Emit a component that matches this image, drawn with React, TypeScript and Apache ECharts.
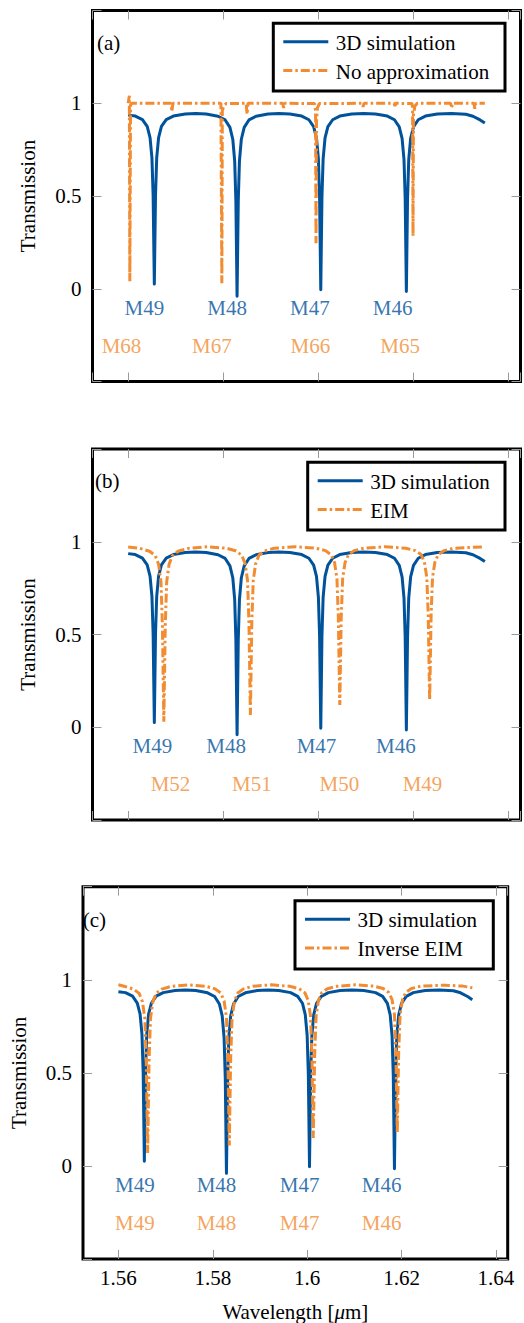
import React, { useEffect, useRef } from 'react';
import * as echarts from 'echarts';

const BLUE = '#00529B';
const ORANGE = '#F28C32';
const FONT = 'Liberation Serif, DejaVu Serif, serif';
const DASH = [9, 3, 2.5, 3];

// 3D simulation transmission (same spectrum in all three panels)
const sim3D: [number, number][] = [
  [1.5600, 0.936], [1.5615, 0.931], [1.5630, 0.912], [1.5640, 0.875], [1.5646, 0.815],
  [1.5650, 0.705], [1.56525, 0.502], [1.5655, 0.025], [1.56575, 0.502], [1.5660, 0.705],
  [1.5664, 0.815], [1.5670, 0.875], [1.5680, 0.912], [1.5695, 0.931], [1.5720, 0.942], [1.5742, 0.945],
  [1.5764, 0.942], [1.5789, 0.930], [1.5804, 0.910], [1.5814, 0.870], [1.5820, 0.806], [1.5824, 0.688],
  [1.58265, 0.471], [1.5829, -0.040], [1.58315, 0.471], [1.5834, 0.688], [1.5838, 0.806],
  [1.5844, 0.870], [1.5854, 0.910], [1.5869, 0.930], [1.5894, 0.942], [1.5917, 0.945],
  [1.5940, 0.942], [1.5965, 0.931], [1.5980, 0.911], [1.5990, 0.874], [1.5996, 0.813], [1.6000, 0.702],
  [1.60025, 0.495], [1.6005, -0.005], [1.60075, 0.495], [1.6010, 0.702], [1.6014, 0.813],
  [1.6020, 0.874], [1.6030, 0.911], [1.6045, 0.931], [1.6070, 0.942], [1.6095, 0.945],
  [1.6120, 0.942], [1.6145, 0.931], [1.6160, 0.911], [1.6170, 0.873], [1.6176, 0.811], [1.6180, 0.698],
  [1.61825, 0.488], [1.6185, -0.015], [1.61875, 0.488], [1.6190, 0.698], [1.6194, 0.811],
  [1.6200, 0.873], [1.6210, 0.911], [1.6225, 0.931], [1.6250, 0.942], [1.6280, 0.945], [1.6310, 0.941],
  [1.6325, 0.930], [1.6340, 0.910], [1.6350, 0.893],
];

// Full model without approximation
const noApprox: [number, number][] = [
  [1.5600, 1.000], [1.56025, 1.040], [1.56035, 0.040], [1.5605, 0.990], [1.5608, 1.000],
  [1.5690, 1.000], [1.5692, 0.955], [1.5694, 1.000],
  [1.5795, 1.000], [1.5797, 0.030], [1.5798, 0.960], [1.5801, 0.985], [1.5806, 0.998],
  [1.5848, 1.000], [1.5850, 0.940], [1.5852, 1.000],
  [1.5925, 1.000], [1.5927, 0.975], [1.5929, 1.000],
  [1.5992, 0.998], [1.5994, 0.960], [1.5995, 0.245], [1.5996, 0.900], [1.5998, 0.975], [1.6002, 0.998],
  [1.6092, 1.000], [1.6094, 0.980], [1.6096, 1.000],
  [1.6159, 1.000], [1.6161, 0.985], [1.6163, 1.000],
  [1.6197, 0.998], [1.6198, 0.970], [1.6199, 0.285], [1.6200, 0.940], [1.6203, 0.985], [1.6208, 1.000],
  [1.6278, 1.000], [1.6280, 0.975], [1.6282, 1.000],
  [1.6327, 1.000], [1.6329, 0.970], [1.6331, 1.000],
  [1.6350, 1.000],
];

// Effective index method
const eim: [number, number][] = [
  [1.5600, 0.972],
  [1.5625, 0.964], [1.5645, 0.949], [1.5657, 0.925], [1.5664, 0.878], [1.5669, 0.784], [1.5672, 0.548],
  [1.5675, 0.030], [1.5678, 0.548], [1.5681, 0.784], [1.5686, 0.878], [1.5693, 0.925], [1.5705, 0.949], [1.5725, 0.964],
  [1.5766, 0.973],
  [1.5807, 0.965], [1.5827, 0.950], [1.5839, 0.927], [1.5846, 0.881], [1.5851, 0.791], [1.5854, 0.564],
  [1.5857, 0.066], [1.5860, 0.564], [1.5863, 0.791], [1.5868, 0.881], [1.5875, 0.927], [1.5887, 0.950], [1.5907, 0.965],
  [1.5951, 0.973],
  [1.5995, 0.965], [1.6015, 0.952], [1.6027, 0.929], [1.6034, 0.887], [1.6039, 0.802], [1.6042, 0.589],
  [1.6045, 0.120], [1.6048, 0.589], [1.6051, 0.802], [1.6056, 0.887], [1.6063, 0.929], [1.6075, 0.952], [1.6095, 0.965],
  [1.6140, 0.973],
  [1.6184, 0.965], [1.6204, 0.952], [1.6216, 0.931], [1.6223, 0.890], [1.6228, 0.807], [1.6231, 0.601],
  [1.6234, 0.147], [1.6237, 0.601], [1.6240, 0.807], [1.6245, 0.890], [1.6252, 0.931], [1.6264, 0.952], [1.6284, 0.965],
  [1.6350, 0.973],
];

// Inverse effective index method
const inverseEim: [number, number][] = [
  [1.5600, 0.973],
  [1.5612, 0.965], [1.5632, 0.950], [1.5644, 0.927], [1.5651, 0.882], [1.5656, 0.792], [1.5659, 0.566],
  [1.5662, 0.070], [1.5665, 0.566], [1.5668, 0.792], [1.5673, 0.882], [1.5680, 0.927], [1.5692, 0.950], [1.5712, 0.965],
  [1.5748, 0.973],
  [1.5785, 0.965], [1.5805, 0.951], [1.5817, 0.929], [1.5824, 0.886], [1.5829, 0.800], [1.5832, 0.584],
  [1.5835, 0.110], [1.5838, 0.584], [1.5841, 0.800], [1.5846, 0.886], [1.5853, 0.929], [1.5865, 0.951], [1.5885, 0.965],
  [1.5924, 0.973],
  [1.5963, 0.965], [1.5983, 0.952], [1.5995, 0.931], [1.6002, 0.890], [1.6007, 0.808], [1.6010, 0.602],
  [1.6013, 0.150], [1.6016, 0.602], [1.6019, 0.808], [1.6024, 0.890], [1.6031, 0.931], [1.6043, 0.952], [1.6063, 0.965],
  [1.6102, 0.973],
  [1.6141, 0.966], [1.6161, 0.953], [1.6173, 0.932], [1.6180, 0.893], [1.6185, 0.814], [1.6188, 0.616],
  [1.6191, 0.180], [1.6194, 0.616], [1.6197, 0.814], [1.6202, 0.893], [1.6209, 0.932], [1.6221, 0.953], [1.6241, 0.966],
  [1.6290, 0.971], [1.6330, 0.966], [1.6350, 0.957],
];

// Mode labels
const simModes = ['M49', 'M48', 'M47', 'M46'];
const modesA = ['M68', 'M67', 'M66', 'M65'];
const modesB = ['M52', 'M51', 'M50', 'M49'];
const modesC = ['M49', 'M48', 'M47', 'M46'];
const simLabelXA = [1.5634, 1.5808, 1.5982, 1.6156];
const modeLabelXA = [1.5586, 1.5776, 1.5983, 1.6172];
const simLabelXB = [1.5651, 1.5806, 1.5996, 1.6163];
const modeLabelXB = [1.5689, 1.5860, 1.6044, 1.6219];
const labelXC = [1.5635, 1.5808, 1.5984, 1.6158];
const simRowY = -0.102;
const modeRowY = -0.306;

const yTicks = [0, 0.5, 1];
const simName = '3D simulation';

const panels = [
  {
    grid: { left: 92.5, top: 10.5, width: 428, height: 371 },
    tag: '(a)', tagX: 97, tagY: 43,
    approxName: 'No approximation', approx: noApprox,
    simX: simLabelXA, modeX: modeLabelXA, modeNames: modesA,
    box: { x: 273.3, y: 23.3, width: 231.7, height: 67.7 }, showX: false,
  },
  {
    grid: { left: 92.5, top: 449, width: 428, height: 371 },
    tag: '(b)', tagX: 95, tagY: 481,
    approxName: 'EIM', approx: eim,
    simX: simLabelXB, modeX: modeLabelXB, modeNames: modesB,
    box: { x: 307.7, y: 462.3, width: 197.3, height: 67.7 }, showX: false,
  },
  {
    grid: { left: 79.3, top: 886.7, width: 428.4, height: 372.3 },
    tag: '(c)', tagX: 82.7, tagY: 920,
    approxName: 'Inverse EIM', approx: inverseEim,
    simX: labelXC, modeX: labelXC, modeNames: modesC,
    box: { x: 295, y: 900.7, width: 198.3, height: 68.3 }, showX: true,
  },
];

const tickStyle = { show: true, inside: true, length: 9, lineStyle: { color: '#9a9a9a', width: 1 } };
const labelText = { fontSize: 21, fontFamily: FONT, color: '#000' };

function legendBox(box: { x: number; y: number; width: number; height: number }, approxName: string) {
  const row1 = box.y + 18.5;
  const row2 = box.y + 47.3;
  const lx = box.x + 10;
  const tx = box.x + 62.5;
  const text = (t: string, y: number) => ({
    type: 'text', x: tx, y: y + 1,
    style: { text: t, fontSize: 21, fontFamily: FONT, fill: '#000', verticalAlign: 'middle' },
  });
  return {
    type: 'group', z: 20,
    children: [
      { type: 'rect', shape: { ...box }, style: { fill: '#fff', stroke: '#000', lineWidth: 3 } },
      { type: 'line', shape: { x1: lx, y1: row1, x2: lx + 45, y2: row1 }, style: { stroke: BLUE, lineWidth: 3 } },
      text(simName, row1),
      {
        type: 'line', shape: { x1: lx, y1: row2, x2: lx + 45, y2: row2 },
        style: { stroke: ORANGE, lineWidth: 3, lineDash: DASH, lineCap: 'butt' },
      },
      text(approxName, row2),
    ],
  };
}

function buildOption() {
  const grid: any[] = [];
  const xAxis: any[] = [];
  const yAxis: any[] = [];
  const series: any[] = [];
  const graphic: any[] = [];

  panels.forEach((p, i) => {
    grid.push({ ...p.grid, show: true, borderColor: '#000', borderWidth: 3, backgroundColor: 'transparent' });

    const xBase = {
      type: 'value', gridIndex: i, min: 1.5525, max: 1.6425, splitNumber: 5,
      axisLine: { show: false, onZero: false }, splitLine: { show: false }, axisTick: tickStyle,
    };
    xAxis.push({
      ...xBase, position: 'bottom',
      axisLabel: { show: p.showX, margin: 8, showMinLabel: false, showMaxLabel: false, ...labelText },
      name: p.showX ? 'Wavelength [{i|\u03bc}m]' : '',
      nameLocation: 'middle', nameGap: 42,
      nameTextStyle: { ...labelText, rich: { i: { ...labelText, fontStyle: 'italic' } } },
    });
    xAxis.push({ ...xBase, position: 'top', axisLabel: { show: false } });

    const yBase = {
      type: 'value', gridIndex: i, min: -0.5, max: 1.5, interval: 0.5,
      axisLine: { show: false, onZero: false }, splitLine: { show: false }, axisTick: tickStyle,
    };
    yAxis.push({
      ...yBase, position: 'left',
      axisLabel: {
        margin: 11, ...labelText,
        formatter: (v: number) => (yTicks.some((t) => Math.abs(t - v) < 1e-9) ? String(v) : ''),
      },
      name: 'Transmission', nameLocation: 'middle', nameGap: 54, nameTextStyle: labelText,
    });
    yAxis.push({ ...yBase, position: 'right', axisLabel: { show: false } });

    const ax = { xAxisIndex: 2 * i, yAxisIndex: 2 * i };
    series.push({
      ...ax, type: 'line', name: simName, data: sim3D, symbol: 'none', showSymbol: false,
      lineStyle: { color: BLUE, width: 3, join: 'round' }, itemStyle: { color: BLUE }, z: 3,
    });
    series.push({
      ...ax, type: 'line', name: p.approxName, data: p.approx, symbol: 'none', showSymbol: false,
      lineStyle: { color: ORANGE, width: 3, type: DASH, cap: 'butt' }, itemStyle: { color: ORANGE }, z: 4,
    });
    const labelSeries = (names: string[], xs: number[], y: number, color: string) => ({
      ...ax, type: 'scatter', symbolSize: 0, silent: true, z: 6,
      data: names.map((n, k) => ({ name: n, value: [xs[k], y] })),
      label: { show: true, position: 'inside', formatter: '{b}', ...labelText, color },
    });
    series.push(labelSeries(simModes, p.simX, simRowY, BLUE));
    series.push(labelSeries(p.modeNames, p.modeX, modeRowY, ORANGE));

    graphic.push(legendBox(p.box, p.approxName));
    graphic.push({
      type: 'text', x: p.tagX, y: p.tagY, z: 10,
      style: { text: p.tag, fontSize: 21, fontFamily: FONT, fill: '#000', verticalAlign: 'middle' },
    });
  });

  return { animation: false, backgroundColor: '#fff', grid, xAxis, yAxis, series, graphic };
}

export default function App() {
  const ref = useRef<HTMLDivElement>(null);
  useEffect(() => {
    const chart = echarts.init(ref.current as HTMLDivElement, null, { renderer: 'svg' });
    chart.setOption(buildOption() as any);
    return () => chart.dispose();
  }, []);
  return (
    <div
      ref={ref}
      style={{ position: 'absolute', left: 0, top: 0, width: 524, height: 1323, background: '#fff' }}
    />
  );
}
